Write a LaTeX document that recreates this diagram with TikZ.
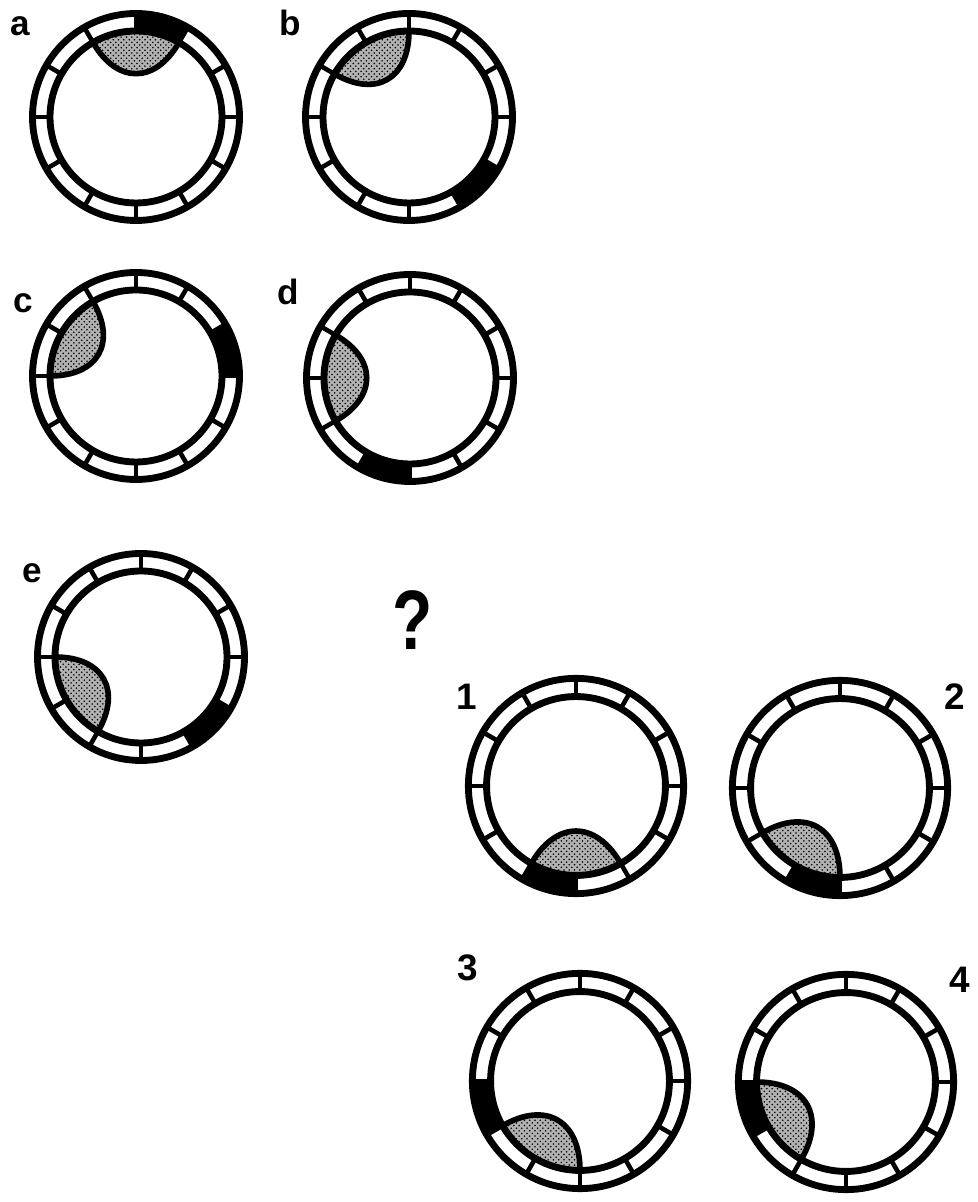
\documentclass[tikz,border=0pt]{standalone}
\usepackage{fontspec}
\setmainfont{Liberation Sans}
\usetikzlibrary{patterns}

\newcommand{\rinner}{86}
\newcommand{\router}{103.5}
\newcommand{\blobbend}{48}

\begin{document}
\begin{tikzpicture}[
    x=0.02cm, y=0.02cm,
    ringline/.style={draw=black, line width=3.9pt},
    divider/.style={draw=black, line width=2.6pt},
    blob/.style={draw=black, line width=3.2pt, preaction={fill=black!30},
                 pattern=crosshatch dots, line join=round},
    figlabel/.style={font=\fontsize{20}{20}\selectfont\bfseries, inner sep=0pt},
    numlabel/.style={font=\fontsize{21}{21}\selectfont\bfseries, inner sep=0pt},
    qmark/.style={font=\fontsize{48}{48}\selectfont\bfseries, inner sep=0pt,
                  xscale=0.78},
    % #1 = start angle of the black cell, #2 = start angle of the shaded lens
    pics/ring/.style n args={2}{code={
        \filldraw[blob] (#2:\rinner) arc[start angle=#2, delta angle=60, radius=\rinner]
            .. controls +(#2+240:\blobbend) and +(#2+180:\blobbend) .. (#2:\rinner) -- cycle;
        \fill (#1:\router) arc[start angle=#1, delta angle=30, radius=\router]
            -- (#1+30:\rinner) arc[start angle=#1+30, delta angle=-30, radius=\rinner]
            -- cycle;
        \draw[ringline] (0,0) circle[radius=\router];
        \draw[ringline] (0,0) circle[radius=\rinner];
        \foreach \ang in {0,30,...,330}
            \draw[divider] (\ang:\rinner) -- (\ang:\router);
    }},
]

\useasboundingbox (0,0) rectangle (977,1202);

% --- Series a-e ---
\pic (ra) at (136,1085) {ring={60}{60}};
\pic (rb) at (409,1085) {ring={300}{90}};
\pic (rc) at (136,826)  {ring={0}{120}};
\pic (rd) at (410,824)  {ring={240}{150}};
\pic (re) at (141,545)  {ring={300}{180}};

\node[figlabel] (la) at (20,1176) {a};
\node[figlabel] (lb) at (290,1179) {b};
\node[figlabel] (lc) at (23,899)  {c};
\node[figlabel] (ld) at (288,910) {d};
\node[figlabel] (le) at (32,629)  {e};

% --- Question mark ---
\node[qmark] (query) at (413,582) {?};

% --- Answer options 1-4 ---
\pic[scale=1.04] (r1) at (576,416) {ring={240}{240}};
\pic[scale=1.04] (r2) at (840,414) {ring={240}{210}};
\pic[scale=1.04] (r3) at (580,121) {ring={180}{210}};
\pic[scale=1.04] (r4) at (846,120) {ring={180}{180}};

\node[numlabel] (l1) at (467,505) {1};
\node[numlabel] (l2) at (955,505) {2};
\node[numlabel] (l3) at (468,234) {3};
\node[numlabel] (l4) at (960,222) {4};

\end{tikzpicture}
\end{document}
